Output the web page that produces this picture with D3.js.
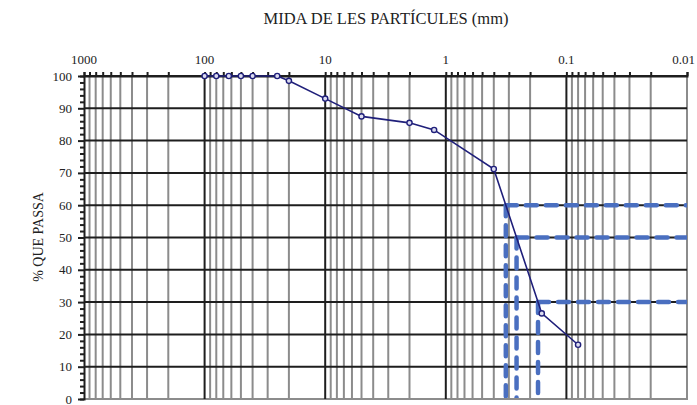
<!DOCTYPE html>
<html>
<head>
<meta charset="utf-8">
<script src="https://cdn.jsdelivr.net/npm/d3@7"></script>
<style>
  html, body { margin: 0; padding: 0; background: #fff; }
  svg { display: block; }
</style>
</head>
<body>
<svg id="chart" width="697" height="405"></svg>
<script>
// Granulometric curve: particle size (mm) vs. percentage passing
const sizesMm = [100, 80, 63, 50, 40, 25, 20, 10, 5, 2, 1.25, 0.4, 0.16, 0.08];
const percentPassing = [100, 100, 100, 100, 100, 100, 98.5, 93, 87.5, 85.5, 83.3, 71.2, 26.5, 16.8];
const xTickLabels = [1000, 100, 10, 1, 0.1, 0.01];
const yTickLabels = [0, 10, 20, 30, 40, 50, 60, 70, 80, 90, 100];
const markedPercents = [60, 50, 30];   // D60, D50, D30

const serif = "'Liberation Serif', 'Times New Roman', serif";
const svg = d3.select("#chart");
const plotLeft = 84, plotRight = 687, plotTop = 76, plotBottom = 399;

const x = d3.scaleLog().domain([1000, 0.01]).range([plotLeft, plotRight]);
const y = d3.scaleLinear().domain([0, 100]).range([plotBottom, plotTop]);

svg.append("clipPath").attr("id", "plot-clip")
  .append("rect").attr("x", plotLeft).attr("y", plotTop - 3)
  .attr("width", plotRight - plotLeft).attr("height", plotBottom - plotTop + 2);

// vertical grid: every 1..9 x 10^e inside the range
const vLines = [];
for (let e = 3; e >= -2; e--) {
  for (let k = 1; k <= 9; k++) {
    const v = k * Math.pow(10, e);
    if (v <= 1000 && v >= 0.01) vLines.push({ v, major: k === 1 });
  }
}

const grid = svg.append("g");
grid.selectAll("line.minor").data(vLines.filter(d => !d.major || d.v === 0.01)).join("line")
  .attr("x1", d => x(d.v)).attr("x2", d => x(d.v))
  .attr("y1", plotTop).attr("y2", plotBottom)
  .attr("stroke", "#8c8c8c").attr("stroke-width", 2);

// horizontal gridlines every 10
grid.selectAll("line.h").data(yTickLabels.filter(v => v > 0)).join("line")
  .attr("x1", plotLeft).attr("x2", plotRight)
  .attr("y1", d => y(d)).attr("y2", d => y(d))
  .attr("stroke", "#1e1e1e").attr("stroke-width", 2);

// baseline at 0
grid.append("line")
  .attr("x1", plotLeft).attr("x2", plotRight + 1).attr("y1", y(0)).attr("y2", y(0))
  .attr("stroke", "#8c8c8c").attr("stroke-width", 2);

// major decade lines
grid.selectAll("line.major").data(vLines.filter(d => d.major && d.v !== 0.01 && d.v !== 1000)).join("line")
  .attr("x1", d => x(d.v)).attr("x2", d => x(d.v))
  .attr("y1", plotTop).attr("y2", plotBottom)
  .attr("stroke", "#1e1e1e").attr("stroke-width", 2);

// top axis: ticks at every grid position, labels at decades
const topAxis = svg.append("g").attr("transform", `translate(0,${plotTop})`)
  .call(d3.axisTop(x).tickValues(vLines.map(d => d.v)).tickSize(4).tickFormat(""));
topAxis.select(".domain").attr("stroke", "#1e1e1e").attr("stroke-width", 2);
topAxis.selectAll(".tick line").attr("stroke", "#1e1e1e").attr("stroke-width", 2);

svg.append("g").selectAll("text").data(xTickLabels).join("text")
  .attr("x", d => d === 0.01 ? 695 : x(d)).attr("y", plotTop - 12)
  .attr("text-anchor", d => d === 0.01 ? "end" : "middle")
  .attr("font-family", serif).attr("font-size", 13).attr("fill", "#222")
  .text(d => String(d));

// left axis: minor ticks every 2, labels every 10
const leftAxis = svg.append("g").attr("transform", `translate(${plotLeft},0)`)
  .call(d3.axisLeft(y).tickValues(d3.range(0, 101, 2)).tickSize(4).tickFormat(""));
leftAxis.select(".domain").attr("stroke", "#1e1e1e").attr("stroke-width", 2);
leftAxis.selectAll(".tick line").attr("stroke", "#1e1e1e").attr("stroke-width", 2)
  .attr("x2", d => d % 10 === 0 ? -6 : -4);

svg.append("g").selectAll("text").data(yTickLabels).join("text")
  .attr("x", plotLeft - 12).attr("y", d => y(d) + 4.5)
  .attr("text-anchor", "end")
  .attr("font-family", serif).attr("font-size", 13).attr("fill", "#222")
  .text(d => d);

// characteristic diameters by log-linear interpolation on the curve
function diameterAt(p) {
  for (let i = 0; i < sizesMm.length - 1; i++) {
    const p0 = percentPassing[i], p1 = percentPassing[i + 1];
    if ((p0 - p) * (p1 - p) <= 0 && p0 !== p1) {
      const t = (p0 - p) / (p0 - p1);
      const l = Math.log10(sizesMm[i]) + t * (Math.log10(sizesMm[i + 1]) - Math.log10(sizesMm[i]));
      return Math.pow(10, l);
    }
  }
  return null;
}

const dashed = svg.append("g")
  .attr("clip-path", "url(#plot-clip)")
  .attr("stroke", "#4a6fc0").attr("stroke-width", 4.5)
  .attr("stroke-dasharray", "11,9").attr("stroke-linecap", "round").attr("fill", "none");
markedPercents.forEach(p => {
  const d = diameterAt(p);
  dashed.append("line")
    .attr("x1", x(d)).attr("x2", plotRight).attr("y1", y(p)).attr("y2", y(p));
  dashed.append("line")
    .attr("x1", x(d)).attr("x2", x(d)).attr("y1", y(p)).attr("y2", y(0));
});

// the curve
const pts = sizesMm.map((s, i) => [s, percentPassing[i]]);
svg.append("path")
  .datum(pts)
  .attr("fill", "none").attr("stroke", "#1f1f7a").attr("stroke-width", 1.6)
  .attr("d", d3.line().x(d => x(d[0])).y(d => y(d[1])));

svg.append("g").selectAll("circle").data(pts).join("circle")
  .attr("cx", d => x(d[0])).attr("cy", d => y(d[1])).attr("r", 2.6)
  .attr("fill", "#dcdcf0").attr("stroke", "#1f1f7a").attr("stroke-width", 1.4);

// titles
svg.append("text")
  .attr("x", 386).attr("y", 24)
  .attr("text-anchor", "middle")
  .attr("font-family", serif).attr("font-size", 16.5).attr("fill", "#222")
  .text("MIDA DE LES PARTÍCULES (mm)");

svg.append("text")
  .attr("transform", "translate(43,237) rotate(-90)")
  .attr("text-anchor", "middle")
  .attr("font-family", serif).attr("font-size", 14).attr("fill", "#222")
  .text("% QUE PASSA");
</script>
</body>
</html>
